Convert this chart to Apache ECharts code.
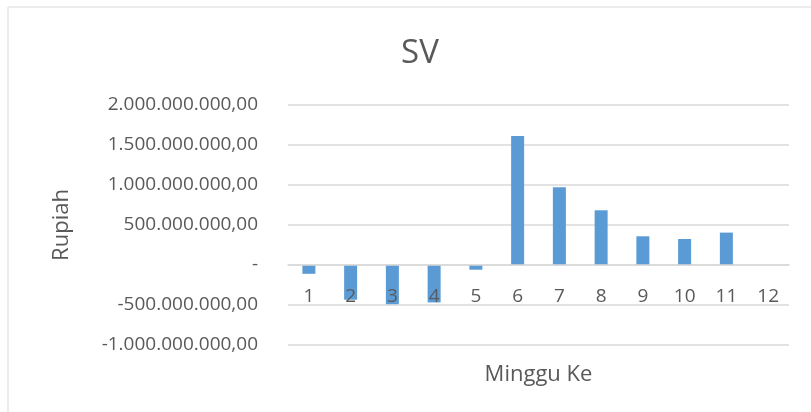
<!DOCTYPE html>
<html>
<head>
<meta charset="utf-8">
<script src="https://cdn.jsdelivr.net/npm/echarts@6/dist/echarts.min.js"></script>
<style>
  html, body { margin: 0; padding: 0; background: #fff; }
  #chart { width: 811px; height: 412px; }
</style>
</head>
<body>
<div id="chart"></div>
<script>
// data
const weeks = ['1', '2', '3', '4', '5', '6', '7', '8', '9', '10', '11', '12']
const svValues = [-110000000, -434000000, -490000000, -468000000, -59000000, 1611000000, 971000000, 684000000, 359000000, 325000000, 405000000, 0]
const yMin = -1000000000
const yMax = 2000000000
const yStep = 500000000

const textColor = '#595959'
const gridColor = '#d9d9d9'
const font = '"Open Sans", "Liberation Sans", sans-serif'

// 2.000.000.000,00 style, zero shown as "-"
function rupiah(v) {
    if (v === 0) return '-'
    const neg = v < 0
    const s = Math.abs(Math.round(v)).toString().replace(/\B(?=(\d{3})+(?!\d))/g, '.')
    return (neg ? '-' : '') + s + ',00'
}

const chart = echarts.init(document.getElementById('chart'), null, { renderer: 'canvas' })
const options = {
    animation: false,
    backgroundColor: '#fff',
    textStyle: { fontFamily: font },
    graphic: [{
        type: 'rect',
        shape: { x: 8, y: 7, width: 830, height: 430 },
        style: { fill: 'none', stroke: gridColor, lineWidth: 1 },
        silent: true
    }],
    title: {
        text: 'SV',
        left: 415,
        textAlign: 'center',
        top: 32,
        textStyle: { fontFamily: font, fontSize: 33, fontWeight: 'normal', color: textColor }
    },
    grid: { left: 288, right: 22, top: 105, bottom: 67, containLabel: false, outerBoundsMode: 'none' },
    xAxis: {
        type: 'category',
        data: weeks,
        z: 5, // labels drawn over the bars like the original
        name: 'Minggu Ke',
        nameLocation: 'middle',
        nameGap: 19,
        nameTextStyle: { fontFamily: font, fontSize: 22, color: textColor },
        axisLine: { show: true, onZero: true, lineStyle: { color: gridColor, width: 1.5 } },
        axisTick: { show: false },
        // labels sit just under the zero line, as in the original
        axisLabel: { fontFamily: font, fontSize: 19, color: textColor, margin: -58 }
    },
    yAxis: {
        type: 'value',
        min: yMin,
        max: yMax,
        interval: yStep,
        name: 'Rupiah',
        nameLocation: 'middle',
        nameRotate: 90,
        nameGap: 215,
        nameTextStyle: { fontFamily: font, fontSize: 22, color: textColor },
        axisLine: { show: false },
        axisTick: { show: false },
        axisLabel: { fontFamily: font, fontSize: 19, color: textColor, margin: 30, formatter: rupiah },
        splitLine: { lineStyle: { color: gridColor, width: 1.5 } }
    },
    series: [{
        type: 'bar',
        data: svValues,
        barWidth: 13,
        itemStyle: { color: '#5b9bd5' }
    }]
}
chart.setOption(options)
</script>
</body>
</html>
